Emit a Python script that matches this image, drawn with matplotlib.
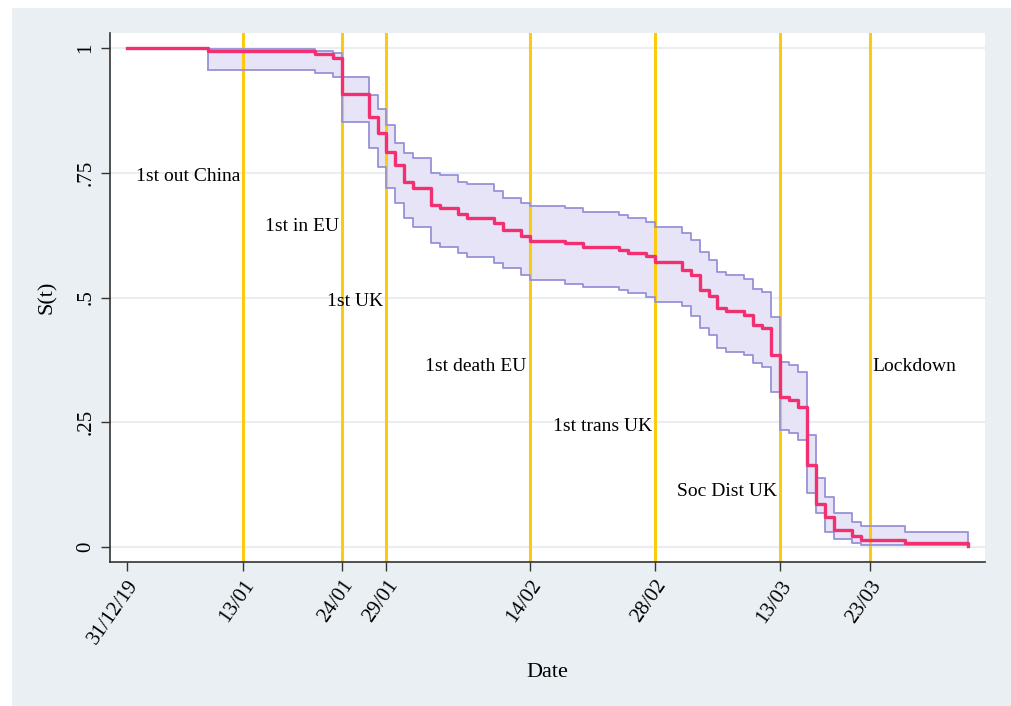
import matplotlib
matplotlib.use('Agg')
import matplotlib.pyplot as plt
from matplotlib.patches import Rectangle

plt.rcParams['font.family'] = ['Liberation Serif', 'DejaVu Serif']

# Kaplan-Meier estimate (days since 31/12/19)
days = [0, 9, 21, 23, 24, 27, 28, 29, 30, 31, 32, 34, 35, 37, 38, 41, 42, 44,
        45, 49, 51, 55, 56, 58, 59, 62, 63, 64, 65, 66, 67, 69, 70, 71, 72, 73,
        74, 75, 76, 77, 78, 79, 81, 82, 87, 94]
surv = [1.0, 0.993, 0.987, 0.979, 0.908, 0.862, 0.830, 0.792, 0.766, 0.731,
        0.719, 0.685, 0.679, 0.667, 0.659, 0.649, 0.635, 0.623, 0.614, 0.609,
        0.602, 0.595, 0.590, 0.583, 0.571, 0.555, 0.545, 0.515, 0.503, 0.478,
        0.472, 0.465, 0.445, 0.438, 0.385, 0.301, 0.295, 0.281, 0.164, 0.086,
        0.061, 0.034, 0.022, 0.014, 0.009, 0.002]

# confidence band (starts at first failure)
ci_days = days[1:]
ci_upper = [0.997, 0.994, 0.990, 0.941, 0.906, 0.877, 0.846, 0.810, 0.790,
            0.780, 0.750, 0.745, 0.731, 0.727, 0.713, 0.700, 0.690, 0.684,
            0.679, 0.671, 0.665, 0.659, 0.652, 0.642, 0.629, 0.615, 0.592,
            0.575, 0.552, 0.545, 0.538, 0.518, 0.512, 0.460, 0.371, 0.365,
            0.351, 0.224, 0.138, 0.101, 0.068, 0.050, 0.042, 0.031, 0.004]
ci_lower = [0.955, 0.949, 0.941, 0.851, 0.800, 0.762, 0.719, 0.690, 0.659,
            0.641, 0.609, 0.601, 0.589, 0.581, 0.569, 0.560, 0.545, 0.535,
            0.528, 0.522, 0.516, 0.510, 0.502, 0.490, 0.482, 0.463, 0.438,
            0.425, 0.398, 0.391, 0.385, 0.368, 0.361, 0.311, 0.234, 0.228,
            0.214, 0.108, 0.068, 0.031, 0.017, 0.009, 0.005, 0.004, 0.004]

tick_days = [0, 13, 24, 29, 45, 59, 73, 83]
tick_labels = ['31/12/19', '13/01', '24/01', '29/01', '14/02', '28/02', '13/03', '23/03']

event_days = [13, 24, 29, 45, 59, 73, 83]
event_names = ['1st out China', '1st in EU', '1st UK', '1st death EU',
               '1st trans UK', 'Soc Dist UK', 'Lockdown']
event_y = [0.75, 0.65, 0.5, 0.37, 0.25, 0.12, 0.37]
event_side = ['left', 'left', 'left', 'left', 'left', 'left', 'right']

W, H = 1011, 706
fig = plt.figure(figsize=(W / 100, H / 100), dpi=100, facecolor='white')
fig.patches.append(Rectangle((12 / W, 0), 1 - 12 / W, 1 - 8 / H,
                             transform=fig.transFigure, facecolor='#e9eff2',
                             edgecolor='none', zorder=-5))
ax = fig.add_axes([110 / W, 1 - 562 / H, (985 - 110) / W, (562 - 33) / H])
ax.set_facecolor('white')

# band
ax.fill_between(ci_days, ci_lower, ci_upper, step='post', color='#e6e4f6',
                linewidth=0, zorder=1)
ax.step(ci_days, ci_upper, where='post', color='#9792d8', lw=1.3, zorder=3)
ax.step(ci_days, ci_lower, where='post', color='#9792d8', lw=1.3, zorder=3)
ax.vlines(ci_days[0], ci_lower[0], ci_upper[0], color='#9792d8', lw=1.3, zorder=3)

# event lines
for d in event_days:
    ax.axvline(d, color='#fcca0f', lw=2.2, zorder=2)

ax.step(days, surv, where='post', color='#f22f70', lw=2.4, zorder=4)

for d, name, yv, side in zip(event_days, event_names, event_y, event_side):
    dx = -3 if side == 'left' else 3
    ax.annotate(name, xy=(d, yv), xytext=(dx, -4), textcoords='offset pixels',
                ha='right' if side == 'left' else 'left', va='center',
                fontsize=14, zorder=5)

ax.set_xlim(-1.9, 95.9)
ax.set_ylim(-0.03, 1.03)
ax.set_yticks([0, 0.25, 0.5, 0.75, 1])
ax.set_yticklabels(['0', '.25', '.5', '.75', '1'], rotation=90, va='center',
                   fontsize=15)
ax.set_xticks(tick_days)
ax.set_xticklabels(tick_labels, rotation=55, ha='right', va='top',
                   rotation_mode='anchor', fontsize=15)
ax.tick_params(axis='both', direction='out', length=6.5, width=1.0,
               color='#333333', pad=4)
ax.grid(axis='y', color='#e8eef1', lw=1.5, zorder=0)
ax.set_axisbelow(True)
for s in ['top', 'right']:
    ax.spines[s].set_visible(False)
for s in ['left', 'bottom']:
    ax.spines[s].set_color('#333333')
    ax.spines[s].set_linewidth(1.2)

ax.set_ylabel('S(t)', fontsize=16, labelpad=14)
ax.set_xlabel('Date', fontsize=16, labelpad=11)

fig.savefig('out.png', dpi=100, facecolor='white')
